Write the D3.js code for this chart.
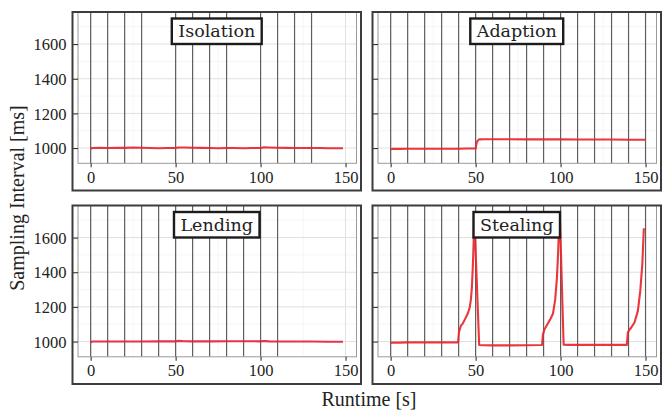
<!DOCTYPE html>
<html>
<head>
<meta charset="utf-8">
<script src="https://cdn.jsdelivr.net/npm/d3@7"></script>
<style>
  body { margin: 0; background: #fff; }
</style>
</head>
<body>
<script>
var width = 662, height = 411;
var serif = "'DejaVu Serif', 'Liberation Serif', serif";
var serif2 = "'Liberation Serif', 'Times New Roman', serif";

// series values
var isolationTime = [0, 1, 5, 10, 15, 20, 25, 30, 35, 40, 45, 50, 52, 55, 60, 65, 70, 75, 80, 85, 90, 95, 100, 102, 105, 110, 115, 120, 125, 130, 135, 140, 145, 148.5];
var isolationValue = [996, 1000, 1001, 1000, 1001, 1001, 1003, 1002, 1000, 999, 1000, 1001, 1003, 1003, 1002, 1001, 1000, 999, 1000, 1000, 999, 1000, 1000, 1004, 1003, 1002, 1001, 1000, 1000, 1000, 1000, 999, 999, 999];

var adaptionTime = [0, 1, 5, 10, 15, 20, 25, 30, 35, 40, 45, 50, 50.6, 51.2, 52, 55, 60, 70, 80, 90, 100, 110, 120, 130, 140, 145, 150];
var adaptionValue = [993, 995, 995, 996, 996, 996, 996, 996, 996, 996, 997, 997, 1030, 1042, 1050, 1051, 1051, 1051, 1050, 1050, 1050, 1049, 1049, 1049, 1048, 1048, 1048];

var lendingTime = [0, 1, 5, 10, 20, 30, 40, 50, 52, 55, 60, 70, 80, 90, 95, 100, 102, 105, 110, 120, 130, 140, 148.5];
var lendingValue = [996, 1000, 1000, 1000, 1000, 1000, 1001, 1001, 1004, 1002, 1001, 1001, 1002, 1002, 1002, 1001, 1003, 1001, 1000, 1000, 1000, 999, 999];

var stealingTime = [0, 1, 5, 10, 20, 30, 39.7, 40.2, 41.3, 42.5, 44.2, 45.5, 46.5, 47.2, 47.8, 48.3, 48.8, 49.2, 52.1, 55, 60, 70, 80, 89.1, 89.6, 90.5, 92, 94, 95.5, 96.8, 97.8, 98.5, 99.2, 99.6, 101.8, 105, 110, 120, 130, 139, 139.6, 140.5, 141.6, 143.5, 145.5, 146.9, 148.1, 149];
var stealingValue = [991, 994, 994, 995, 995, 995, 995, 1055, 1090, 1105, 1138, 1165, 1196, 1240, 1311, 1420, 1561, 1731, 980, 979, 978, 978, 979, 980, 1040, 1070, 1095, 1130, 1160, 1240, 1360, 1500, 1700, 1720, 982, 981, 981, 981, 981, 981, 1052, 1068, 1081, 1110, 1177, 1292, 1446, 1654];

// dark marker lines per panel [s]
var isolationEvents = [0, 10, 20, 30, 50, 60, 70, 80, 100, 110, 120, 130];
var adaptionEvents = [0, 10, 20, 30, 40, 50, 60, 70, 80, 90, 100, 110, 120, 130, 140, 150];
var lendingEvents = [0, 10, 20, 30, 40, 50, 60, 70, 80, 90, 100, 110];
var stealingEvents = [0, 10, 20, 30, 40, 50, 60, 70, 80, 90, 100, 110, 120, 130, 140, 150];

var panelNames = ["Isolation", "Adaption", "Lending", "Stealing"];
var xTicks = [0, 50, 100, 150];
var xMinor = [25, 75, 125];
var yTicks = [1000, 1200, 1400, 1600];
var yMinor = [1100, 1300, 1500, 1700];

var facets = [
  {name: panelNames[0], col: 0, row: 0, t: isolationTime, v: isolationValue, ev: isolationEvents, color: "#e8262b"},
  {name: panelNames[1], col: 1, row: 0, t: adaptionTime, v: adaptionValue, ev: adaptionEvents, color: "#e8262b"},
  {name: panelNames[2], col: 0, row: 1, t: lendingTime, v: lendingValue, ev: lendingEvents, color: "#e6213f"},
  {name: panelNames[3], col: 1, row: 1, t: stealingTime, v: stealingValue, ev: stealingEvents, color: "#e8262b"}
];

var colX = [72.5, 372.5], rowY = [12, 205.5];
var frameW = 288.5, frameH = 178.5, panelH = 151.3;

var svg = d3.select("body")
  .append("svg")
  .attr("width", width)
  .attr("height", height);

facets.forEach(function(f) {
  var x0 = colX[f.col], y0 = rowY[f.row];
  var pL = x0 + 5.5, pR = x0 + frameW - 4.5, pT = y0, pB = y0 + panelH;

  var x = d3.scaleLinear().domain([-7.45, 156.45]).range([pL, pR]);
  var y = d3.scaleLinear().domain([912, 1785]).range([pB, pT]);

  var g = svg.append("g");

  g.append("rect")
    .attr("x", x0).attr("y", y0)
    .attr("width", frameW).attr("height", frameH)
    .attr("fill", "#fff");

  // grid
  g.selectAll(".gxm").data(xMinor).enter().append("line")
    .attr("x1", function(d) { return x(d) }).attr("x2", function(d) { return x(d) })
    .attr("y1", pT).attr("y2", pB)
    .attr("stroke", "#f1f1f1").attr("stroke-width", 0.7);
  g.selectAll(".gym").data(yMinor).enter().append("line")
    .attr("x1", pL).attr("x2", pR)
    .attr("y1", function(d) { return y(d) }).attr("y2", function(d) { return y(d) })
    .attr("stroke", "#f1f1f1").attr("stroke-width", 0.7);
  g.selectAll(".gx").data(xTicks).enter().append("line")
    .attr("x1", function(d) { return x(d) }).attr("x2", function(d) { return x(d) })
    .attr("y1", pT).attr("y2", pB)
    .attr("stroke", "#e0e0e0").attr("stroke-width", 1);
  g.selectAll(".gy").data(yTicks).enter().append("line")
    .attr("x1", pL).attr("x2", pR)
    .attr("y1", function(d) { return y(d) }).attr("y2", function(d) { return y(d) })
    .attr("stroke", "#e0e0e0").attr("stroke-width", 1);

  // marker lines
  g.selectAll(".ev").data(f.ev).enter().append("line")
    .attr("x1", function(d) { return x(d) }).attr("x2", function(d) { return x(d) })
    .attr("y1", pT).attr("y2", pB)
    .attr("stroke", "#5e5e5e").attr("stroke-width", 1.2);

  g.append("rect")
    .attr("x", pL).attr("y", pT)
    .attr("width", pR - pL).attr("height", pB - pT)
    .attr("fill", "none").attr("stroke", "#9a9a9a").attr("stroke-width", 1);

  var line = d3.line()
    .x(function(d, i) { return x(f.t[i]) })
    .y(function(d) { return y(d) });

  g.append("path")
    .datum(f.v)
    .attr("d", line)
    .attr("fill", "none")
    .attr("stroke", f.color)
    .attr("stroke-width", 2.1)
    .attr("stroke-linejoin", "round")
    .attr("opacity", 0.92);

  // axes
  var xAxis = g.append("g")
    .attr("transform", "translate(0," + pB + ")")
    .call(d3.axisBottom(x).tickValues(xTicks).tickSize(4).tickPadding(3));
  var yAxis = g.append("g")
    .attr("transform", "translate(" + pL + ",0)")
    .call(d3.axisLeft(y).tickValues(yTicks).tickSize(5.5).tickPadding(6)
      .tickFormat(f.col == 0 ? d3.format("d") : function() { return "" }));
  [xAxis, yAxis].forEach(function(a) {
    a.attr("font-family", serif2);
    a.select(".domain").remove();
    a.selectAll(".tick line").attr("stroke", "#333").attr("stroke-width", 1.1);
    a.selectAll("text")
      .attr("font-size", 16.5)
      .attr("fill", "#222");
  });
  xAxis.selectAll("text").attr("dy", null).attr("y", 19.5);
  yAxis.selectAll("text").attr("dy", "0.34em");

  // strip label
  var cx = x0 + frameW / 2;
  var lbl = g.append("text")
    .attr("x", cx).attr("y", y0 + 25)
    .attr("text-anchor", "middle")
    .attr("font-family", serif)
    .attr("font-size", 17.5)
    .attr("fill", "#222")
    .text(f.name);
  var bw = lbl.node().getComputedTextLength() + 13;
  g.insert("rect", function() { return lbl.node() })
    .attr("x", cx - bw / 2).attr("y", y0 + 6.5)
    .attr("width", bw).attr("height", 25.5)
    .attr("fill", "#fff").attr("stroke", "#1c1c1c").attr("stroke-width", 2.4);

  g.append("rect")
    .attr("x", x0).attr("y", y0)
    .attr("width", frameW).attr("height", frameH)
    .attr("fill", "none").attr("stroke", "#3c3c3c").attr("stroke-width", 2);
});

svg.append("text")
  .attr("transform", "translate(24," + 198 + ") rotate(-90)")
  .attr("text-anchor", "middle")
  .attr("font-family", serif2)
  .attr("font-size", 20)
  .attr("fill", "#222")
  .text("Sampling Interval [ms]");

svg.append("text")
  .attr("x", 369).attr("y", 406)
  .attr("text-anchor", "middle")
  .attr("font-family", serif2)
  .attr("font-size", 20)
  .attr("fill", "#222")
  .text("Runtime [s]");
</script>
</body>
</html>
